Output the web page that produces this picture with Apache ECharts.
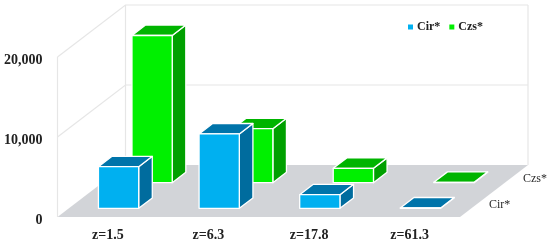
<!DOCTYPE html>
<html><head><meta charset="utf-8">
<style>html,body{margin:0;padding:0;background:#fff}#c{width:550px;height:246px}</style>
<script src="https://cdn.jsdelivr.net/npm/echarts@6/dist/echarts.min.js"></script>
</head><body><div id="c"></div>
<script>
var categories = ['z=1.5', 'z=6.3', 'z=17.8', 'z=61.3'];
var cirValues = [5200, 9300, 1700, 50];
var czsValues = [18400, 6750, 1800, 50];
var yTicks = [0, 10000, 20000];
var depthLabels = ['Cir*', 'Czs*'];

var SERIF = '"Liberation Serif","Times New Roman",serif';
var DX = 68, DY = 52, BAR_DEPTH = 0.2, BAR_W = 0.4;
function proj(p, d) { return [p[0] + DX * d, p[1] - DY * d]; }

function barRenderer(frontD, cols) {
  return function (params, api) {
    var i = api.value(0), v = api.value(1);
    var top = api.coord([i, v]), base = api.coord([i, 0]);
    var w = api.size([1, 0])[0] * BAR_W;
    var x0 = top[0] - w / 2 - 0.6, x1 = top[0] + w / 2 - 0.6;
    var f = frontD, b = frontD + BAR_DEPTH;
    var A = proj([x0, top[1]], f), B = proj([x1, top[1]], f),
        C = proj([x1, base[1]], f), D = proj([x0, base[1]], f),
        E = proj([x1, top[1]], b), F = proj([x0, top[1]], b),
        G = proj([x1, base[1]], b);
    var st = { stroke: '#fff', lineWidth: 1.3, lineJoin: 'round' };
    function poly(pts, fill) {
      return { type: 'polygon', shape: { points: pts },
        style: Object.assign({ fill: fill }, st) };
    }
    return { type: 'group', children: [
      poly([B, C, G, E], cols.side),
      poly([A, B, E, F], cols.top),
      poly([A, B, C, D], cols.front)
    ] };
  };
}

function frameRenderer(params, api) {
  var band = api.size([1, 0])[0];
  var xL = api.coord([0, 0])[0] - band / 2;
  var xR = api.coord([categories.length - 1, 0])[0] + band / 2;
  var y0 = api.coord([0, 0])[1];
  var kids = [{
    type: 'polygon',
    shape: { points: [[xL, y0], [xR, y0], proj([xR, y0], 1), proj([xL, y0], 1)] },
    style: { fill: '#D2D4D8' }
  }];
  var ln = { stroke: '#E6E6E6', lineWidth: 1.2, fill: 'none' };
  yTicks.forEach(function (t) {
    var y = api.coord([0, t])[1];
    if (t > 0) {
      kids.push({ type: 'polyline',
        shape: { points: [[xL, y], proj([xL, y], 1), proj([xR, y], 1)] }, style: ln });
    }
  });
  var yTop = api.coord([0, yTicks[yTicks.length - 1]])[1];
  kids.push({ type: 'line', shape: { x1: xL, y1: y0, x2: xL, y2: yTop }, style: ln });
  var bl = proj([xL, y0], 1), blt = proj([xL, yTop], 1);
  kids.push({ type: 'line', shape: { x1: bl[0], y1: bl[1], x2: blt[0], y2: blt[1] }, style: ln });
  var br = proj([xR, y0], 1), brt = proj([xR, yTop], 1);
  kids.push({ type: 'line', shape: { x1: br[0], y1: br[1], x2: brt[0], y2: brt[1] }, style: ln });
  depthLabels.forEach(function (s, k) {
    var d = k === 0 ? 0.25 : 0.75;
    var p = proj([xR, y0], d);
    kids.push({ type: 'text', style: { x: p[0] + 12, y: p[1] + 1, text: s, fill: '#2a2a2a',
      font: '12px ' + SERIF, textAlign: 'left', textVerticalAlign: 'middle' } });
  });
  return { type: 'group', children: kids };
}

var chart = echarts.init(document.getElementById('c'), null, { renderer: 'canvas' });
chart.setOption({
  animation: false,
  backgroundColor: '#fff',
  grid: { left: 57.5, right: 90, top: 57, bottom: 29 },
  legend: {
    left: 403, top: 16, icon: 'rect', itemWidth: 5, itemHeight: 5, itemGap: 9,
    data: ['Cir*', 'Czs*'],
    textStyle: { fontFamily: SERIF, fontWeight: 'bold', fontSize: 12, color: '#222', padding: [0, 0, 0, -1] }
  },
  xAxis: {
    type: 'category', data: categories,
    axisLine: { show: false }, axisTick: { show: false }, splitLine: { show: false },
    axisLabel: { fontFamily: SERIF, fontWeight: 'bold', fontSize: 14, color: '#222', margin: 11 }
  },
  yAxis: {
    type: 'value', min: 0, max: 20000, interval: 10000,
    axisLine: { show: false }, axisTick: { show: false }, splitLine: { show: false },
    axisLabel: {
      fontFamily: SERIF, fontWeight: 'bold', fontSize: 14, color: '#222', margin: 15,
      verticalAlign: 'top', lineHeight: 6,
      formatter: function (v) { return v.toLocaleString('en-US'); }
    }
  },
  series: [
    { type: 'custom', name: 'frame', silent: true, renderItem: frameRenderer, data: [[0, 0]], z: 1 },
    { type: 'custom', name: 'Czs*', z: 2, itemStyle: { color: '#00EE00' },
      renderItem: barRenderer(0.66, { front: '#00F000', top: '#00B400', side: '#00A000' }),
      data: czsValues.map(function (v, i) { return [i, v]; }) },
    { type: 'custom', name: 'Cir*', z: 3, itemStyle: { color: '#00B0F0' },
      renderItem: barRenderer(0.167, { front: '#00B0F0', top: '#0074AA', side: '#006C9E' }),
      data: cirValues.map(function (v, i) { return [i, v]; }) }
  ]
});
</script></body></html>
